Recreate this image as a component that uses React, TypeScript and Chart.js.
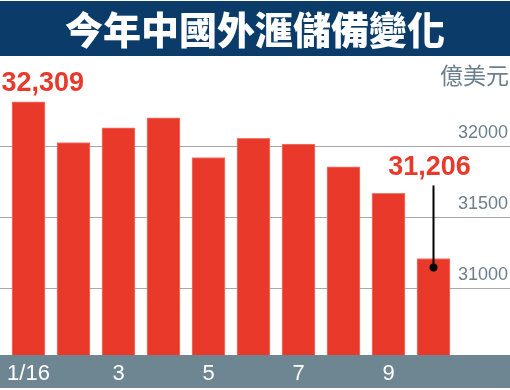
import React, { useEffect, useRef } from "react";
import { Chart, registerables } from "chart.js";

Chart.register(...registerables);

const title = "今年中國外滙儲備變化";
const unitLabel = "億美元";
const months = ["1/16", "2", "3", "4", "5", "6", "7", "8", "9", "10"];
const shownMonthLabels = ["1/16", "3", "5", "7", "9"];
const reserves = [32309, 32023, 32126, 32197, 31917, 32052, 32011, 31852, 31664, 31206];
const yTicks = [31000, 31500, 32000];
const annotatedIndices = [0, 9];

const RED = "#e8392b";
const NAVY = "#0a3b69";
const GRAYBAND = "#6e8592";
const TICKGRAY = "#6b7f8c";

const decorPlugin = {
  id: "decor",
  beforeDraw(chart: any) {
    const { ctx, width } = chart;
    const xScale = chart.scales.x;
    ctx.save();
    ctx.fillStyle = "#ffffff";
    ctx.fillRect(0, 0, width, chart.height);
    // title band
    ctx.fillStyle = NAVY;
    ctx.fillRect(0, 1, width, 55);
    ctx.fillStyle = "#ffffff";
    ctx.font = "900 38px 'Noto Sans CJK TC', 'Noto Sans CJK SC', sans-serif";
    ctx.textAlign = "center";
    ctx.textBaseline = "middle";
    ctx.fillText(title, 255, 30);
    // bottom band
    ctx.fillStyle = GRAYBAND;
    ctx.fillRect(0, xScale.top, width, 33);
    // unit label
    ctx.fillStyle = TICKGRAY;
    ctx.font = "23px 'Noto Sans CJK TC', 'Noto Sans CJK SC', sans-serif";
    ctx.textAlign = "right";
    ctx.textBaseline = "middle";
    ctx.fillText(unitLabel, 509, 75);
    ctx.restore();
  },
  beforeDatasetsDraw(chart: any) {
    const { ctx, width } = chart;
    const y = chart.scales.y;
    ctx.save();
    ctx.strokeStyle = "#a8a8a8";
    ctx.lineWidth = 1;
    for (const t of yTicks) {
      const py = Math.round(y.getPixelForValue(t)) + 0.5;
      ctx.beginPath();
      ctx.moveTo(0, py);
      ctx.lineTo(width, py);
      ctx.stroke();
    }
    ctx.restore();
  },
  afterDatasetsDraw(chart: any) {
    const { ctx } = chart;
    const meta = chart.getDatasetMeta(0);
    ctx.save();
    ctx.font = "bold 27px 'Liberation Sans', Arial, sans-serif";
    ctx.fillStyle = RED;
    ctx.textBaseline = "middle";
    annotatedIndices.forEach((i, k) => {
      const bar = meta.data[i];
      const txt = reserves[i].toLocaleString("en-US");
      if (k === 0) {
        ctx.textAlign = "left";
        ctx.fillText(txt, bar.x - 27, bar.y - 18);
      } else {
        ctx.textAlign = "center";
        ctx.fillStyle = RED;
        ctx.fillText(txt, bar.x - 4, bar.y - 91);
        ctx.strokeStyle = "#000000";
        ctx.lineWidth = 2;
        ctx.beginPath();
        ctx.moveTo(bar.x, bar.y - 73);
        ctx.lineTo(bar.x, bar.y + 9);
        ctx.stroke();
        ctx.fillStyle = "#000000";
        ctx.beginPath();
        ctx.arc(bar.x, bar.y + 9, 4, 0, Math.PI * 2);
        ctx.fill();
      }
    });
    ctx.restore();
  },
};

export default function App() {
  const ref = useRef<HTMLCanvasElement>(null);
  useEffect(() => {
    if (!ref.current) return;
    const chart = new Chart(ref.current, {
      type: "bar",
      data: {
        labels: months,
        datasets: [
          {
            data: reserves,
            backgroundColor: RED,
            borderColor: "#f07a6c",
            borderWidth: 1,
            barThickness: 33,
          },
        ],
      },
      options: {
        responsive: false,
        animation: false,
        layout: { padding: { top: 60, left: 6, right: 2, bottom: 0 } },
        plugins: { legend: { display: false }, tooltip: { enabled: false } },
        scales: {
          x: {
            grid: { display: false, drawTicks: false },
            border: { display: false },
            afterFit: (s: any) => {
              s.height = 35;
            },
            ticks: {
              autoSkip: false,
              maxRotation: 0,
              color: "#ffffff",
              padding: 6,
              font: { family: "'Liberation Sans', Arial, sans-serif", size: 22 },
              callback: (_v: any, i: number) =>
                shownMonthLabels.includes(months[i]) ? months[i] : "",
            },
          },
          y: {
            position: "right",
            min: 30526,
            max: 32604,
            grid: { display: false, drawTicks: false },
            border: { display: false },
            afterFit: (s: any) => {
              s.width = 52;
            },
            afterBuildTicks: (s: any) => {
              s.ticks = yTicks.map((v) => ({ value: v }));
            },
            ticks: {
              crossAlign: "far",
              padding: 2,
              labelOffset: -13,
              color: TICKGRAY,
              font: { family: "'Liberation Sans', Arial, sans-serif", size: 18 },
              callback: (v: any) => String(v),
            },
          },
        },
      },
      plugins: [decorPlugin],
    });
    return () => chart.destroy();
  }, []);
  return (
    <div style={{ position: "fixed", left: 0, top: 0, width: 510, height: 390 }}>
      <canvas ref={ref} width={510} height={390} style={{ display: "block" }} />
    </div>
  );
}
